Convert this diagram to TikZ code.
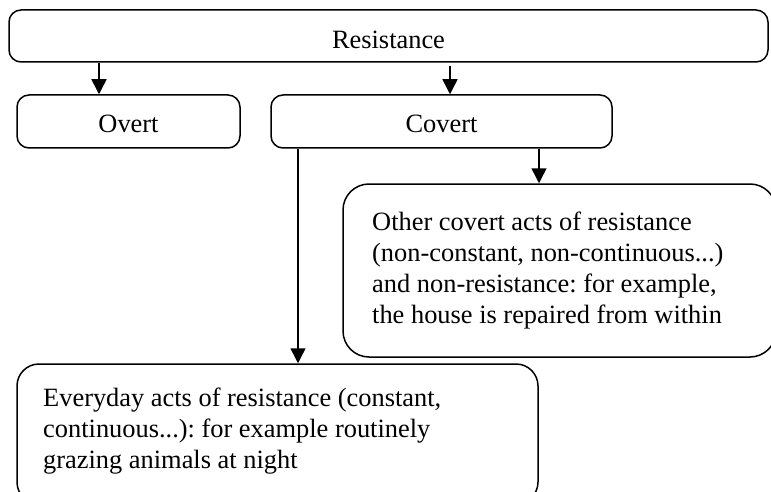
\documentclass[tikz,border=0pt]{standalone}
\usepackage{fontspec}
\setmainfont{Liberation Serif}
\usetikzlibrary{arrows.meta}
\frenchspacing
\tikzset{
  box/.style={draw=black, line width=1.5pt, rounded corners=#1, inner sep=0pt},
  box/.default=10pt,
  lbl/.style={inner sep=0pt, font=\fontsize{26.4}{31}\selectfont},
  conn/.style={line width=1.5pt, -{Triangle[length=15pt,width=15pt]}},
  plain/.style={line width=1.5pt}
}
\begin{document}
\begin{tikzpicture}[x=1pt,y=-1pt]
\useasboundingbox (0,0) rectangle (771,492);
\clip (0,0) rectangle (771,492);
\fill[white] (0,0) rectangle (771,492);
% boxes
\node[box=12pt, minimum width=759pt, minimum height=52pt] (res) at (388.5,36) {};
\node[box=12pt, minimum width=223pt, minimum height=53pt] (ov) at (128.5,121.5) {};
\node[box=12pt, minimum width=341pt, minimum height=53pt] (cov) at (441.5,121.5) {};
\node[box=26pt, minimum width=433pt, minimum height=173pt] (oth) at (559.5,270.5) {};
\node[box=22pt, minimum width=521pt, minimum height=140pt] (ev) at (277.5,434) {};
% texts
\node[lbl, anchor=base] (tres) at (388.5,48.5) {Resistance};
\node[lbl, anchor=base] (tov) at (128.5,133) {Overt};
\node[lbl, anchor=base] (tcov) at (441.5,133) {Covert};
\node[lbl, anchor=base west] (toth) at (372,230) {Other covert acts of resistance};
\node[lbl, anchor=base west] (toth2) at (372,261) {(non-constant, non-continuous...)};
\node[lbl, anchor=base west] (toth3) at (372,292) {and non-resistance: for example,};
\node[lbl, anchor=base west] (toth4) at (372,323) {the house is repaired from within};
\node[lbl, anchor=base west] (tev) at (43,406) {Everyday acts of resistance (constant,};
\node[lbl, anchor=base west] (tev2) at (43,437) {continuous...): for example routinely};
\node[lbl, anchor=base west] (tev3) at (43,468) {grazing animals at night};
% connectors
\draw[conn] (res.south -| 99,0) -- (ov.north -| 99,0);
\draw[conn] ([yshift=-3pt]res.south -| 450,0) -- (cov.north -| 450,0);
\draw[conn] (cov.south -| 539,0) -- (oth.north -| 539,0);
\draw[conn] (cov.south -| 298,0) -- (ev.north -| 298,0);
\end{tikzpicture}
\end{document}
